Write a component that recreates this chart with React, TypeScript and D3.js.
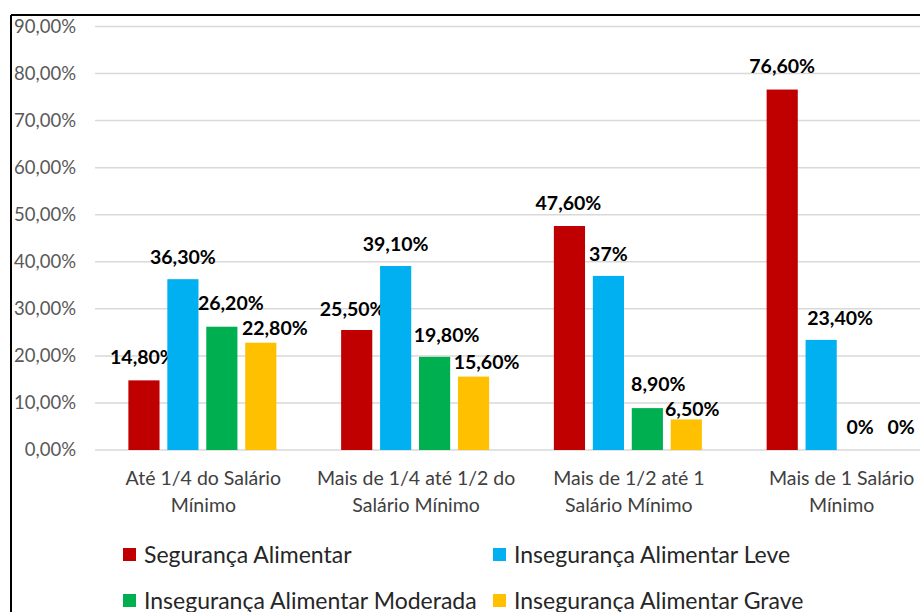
import React from 'react';
import * as d3 from 'd3';

const categories = [
  ['Até 1/4 do Salário', 'Mínimo'],
  ['Mais de 1/4 até 1/2 do', 'Salário Mínimo'],
  ['Mais de 1/2 até 1', 'Salário Mínimo'],
  ['Mais de 1 Salário', 'Mínimo'],
];
const seriesNames = [
  'Segurança Alimentar',
  'Insegurança Alimentar Leve',
  'Insegurança Alimentar Moderada',
  'Insegurança Alimentar Grave',
];
const seriesColors = ['#c00000', '#00b0f0', '#00b050', '#ffc000'];
const seguranca = [14.8, 25.5, 47.6, 76.6];
const leve = [36.3, 39.1, 37, 23.4];
const moderada = [26.2, 19.8, 8.9, 0];
const grave = [22.8, 15.6, 6.5, 0];
const valueLabels = [
  ['14,80%', '25,50%', '47,60%', '76,60%'],
  ['36,30%', '39,10%', '37%', '23,40%'],
  ['26,20%', '19,80%', '8,90%', '0%'],
  ['22,80%', '15,60%', '6,50%', '0%'],
];
const yTicks = [0, 10, 20, 30, 40, 50, 60, 70, 80, 90];

// nudges of the data labels, as Excel placed them [dx, dy] per series/category
const labelNudge = [
  [[-1, -1], [-4, 1], [-1, -1], [0, -1]],
  [[0, 0], [0, 0], [0, 0], [19, 0]],
  [[9, -2], [12, 0], [11, -2], [0, -1]],
  [[14, 7], [13, 8], [6, 12], [2, -1]],
];

const W = 920;
const H = 612;
const font = 'Lato, "Open Sans", sans-serif';

export default function App() {
  const series = [seguranca, leve, moderada, grave];
  const y = d3.scaleLinear().domain([0, 90]).range([450, 26.5]);
  const x0 = d3
    .scaleBand<number>()
    .domain(d3.range(categories.length))
    .range([97, 948]);
  const groupW = 148;
  const x1 = d3
    .scaleBand<number>()
    .domain(d3.range(series.length))
    .range([0, groupW])
    .paddingInner(0.2);
  const offset = (x0.bandwidth() - groupW) / 2 - 1;
  const fmt = (v: number) => d3.format('.2f')(v).replace('.', ',') + '%';

  return (
    <svg
      width={W}
      height={H}
      style={{ position: 'absolute', left: 0, top: 0, background: '#fff' }}
      fontFamily={font}
    >
      <rect x={0} y={0} width={W} height={H} fill="#fff" />
      {yTicks.map((t) => (
        <g key={t}>
          <line x1={95} x2={W} y1={y(t)} y2={y(t)} stroke="#d9d9d9" strokeWidth={1.5} />
          <text x={76} y={y(t)} dy="0.35em" textAnchor="end" fontSize={18.5} fill="#595959">
            {fmt(t)}
          </text>
        </g>
      ))}
      {series.map((vals, si) =>
        vals.map((v, ci) => {
          const bx = (x0(ci) as number) + offset + (x1(si) as number);
          const [ndx, ndy] = labelNudge[si][ci];
          return (
            <g key={`${si}-${ci}`}>
              {v > 0 && (
                <rect
                  x={bx}
                  y={y(v)}
                  width={x1.bandwidth()}
                  height={y(0) - y(v)}
                  fill={seriesColors[si]}
                />
              )}
              <text
                x={bx + x1.bandwidth() / 2 + ndx}
                y={y(v) - 22 + ndy}
                dy="0.35em"
                textAnchor="middle"
                fontSize={19.5}
                fontWeight="bold"
                fill="#000"
              >
                {valueLabels[si][ci]}
              </text>
            </g>
          );
        })
      )}
      {categories.map((lines, ci) => (
        <text
          key={ci}
          x={(x0(ci) as number) + x0.bandwidth() / 2}
          y={485}
          textAnchor="middle"
          fontSize={19.5}
          fill="#404040"
        >
          {lines.map((l, i) => (
            <tspan key={i} x={(x0(ci) as number) + x0.bandwidth() / 2} dy={i === 0 ? 0 : 27}>
              {l}
            </tspan>
          ))}
        </text>
      ))}
      {seriesNames.map((name, i) => {
        const lx = i % 2 === 0 ? 123 : 493;
        const ly = i < 2 ? 555 : 601;
        return (
          <g key={name}>
            <rect x={lx} y={ly - 7} width={13} height={13} fill={seriesColors[i]} />
            <text x={lx + 21} y={ly} dy="0.35em" fontSize={23} fill="#262626">
              {name}
            </text>
          </g>
        );
      })}
      <line x1={11} x2={W} y1={15} y2={15} stroke="#000" strokeWidth={2} />
      <line x1={11} x2={11} y1={15} y2={H} stroke="#000" strokeWidth={2} />
    </svg>
  );
}
